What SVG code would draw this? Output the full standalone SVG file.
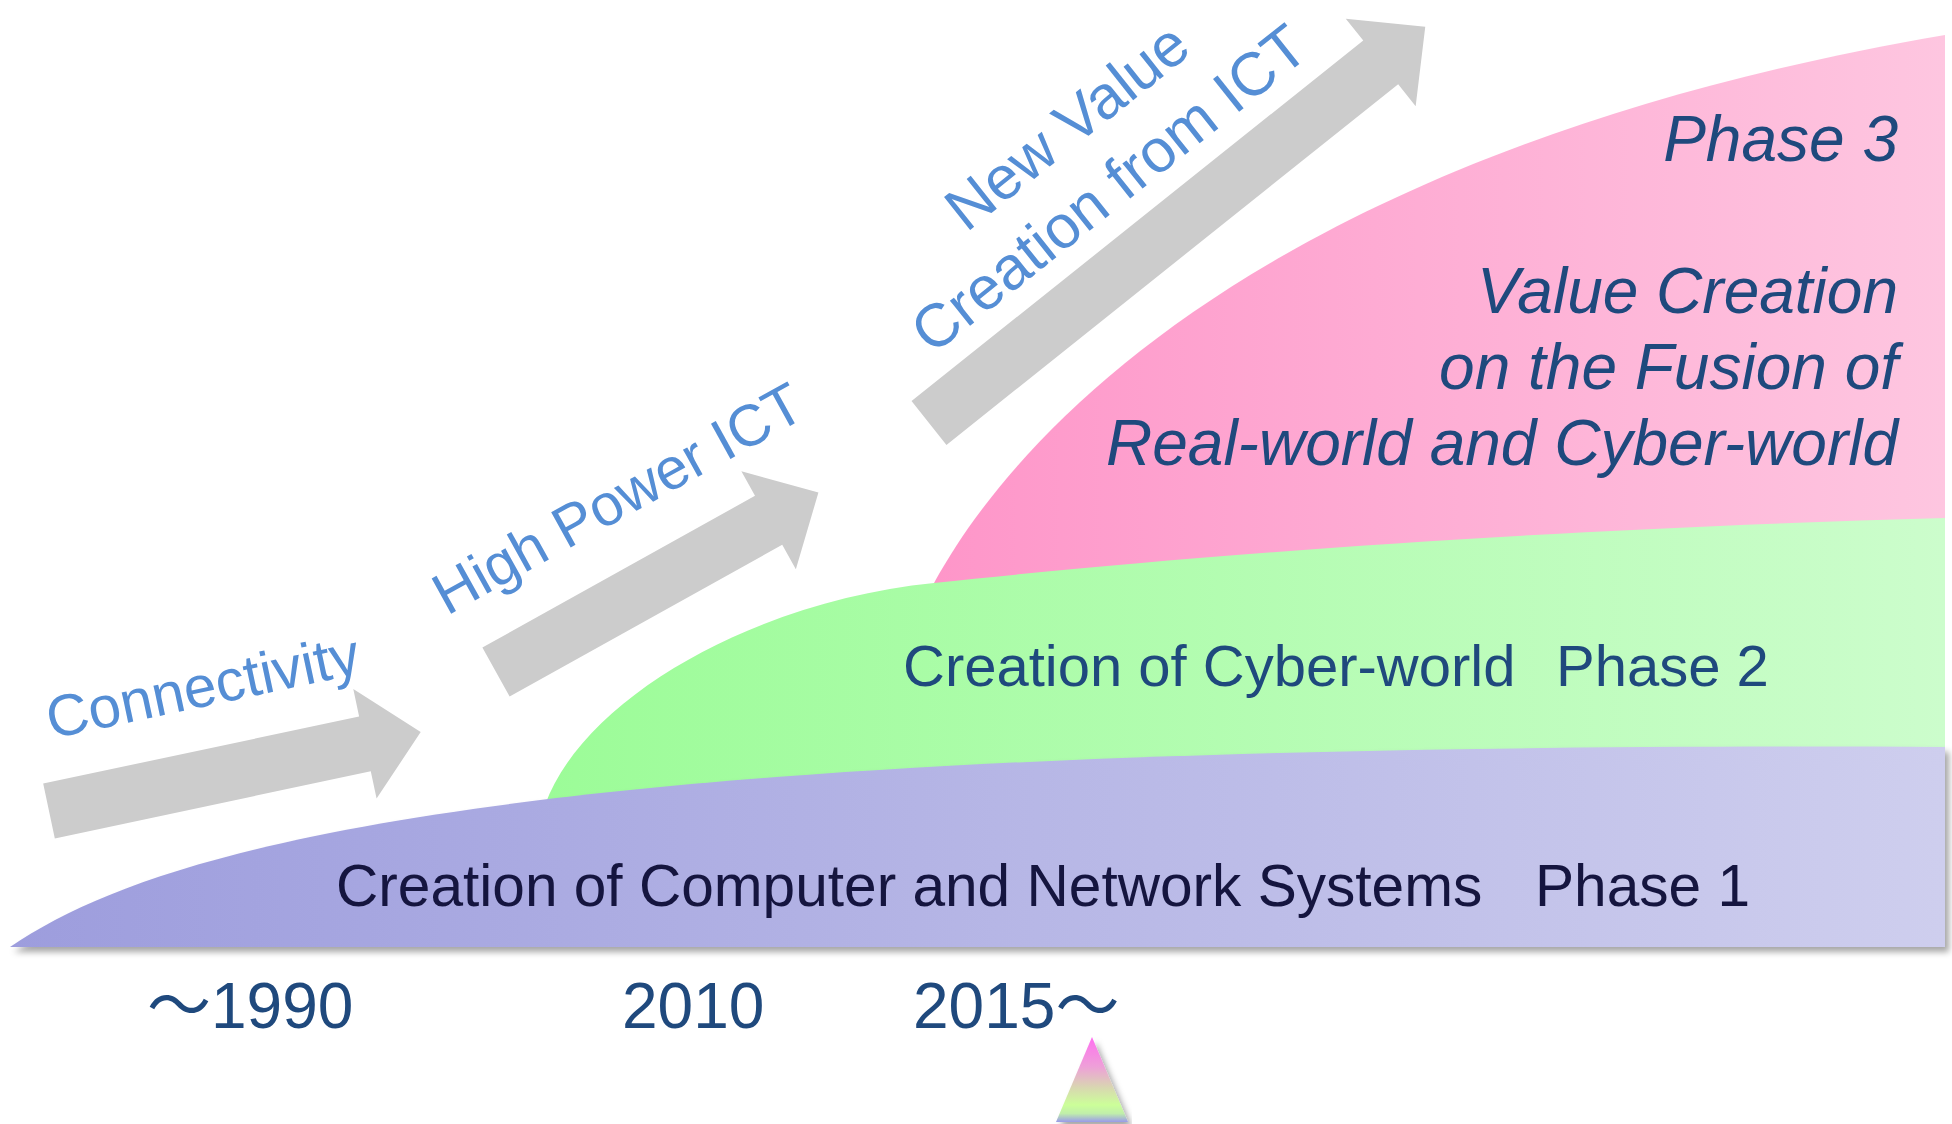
<svg xmlns="http://www.w3.org/2000/svg" width="1952" height="1124" viewBox="0 0 1952 1124">
<style>
  .lbl { font-family: "Liberation Sans", Arial, sans-serif; font-size: 58.5px; fill: #558ED5; }
  .lbl3 { font-family: "Liberation Sans", Arial, sans-serif; font-size: 61px; fill: #558ED5; text-anchor: middle; }
  .ph { font-family: "Liberation Sans", Arial, sans-serif; font-size: 58px; fill: #1F497D; }
  .ph1 { font-family: "Liberation Sans", Arial, sans-serif; font-size: 58.6px; fill: #15153F; }
  .ph3 { font-family: "Liberation Sans", Arial, sans-serif; font-size: 64px; font-style: italic; fill: #1F497D; text-anchor: end; }
  .yr { font-family: "Liberation Sans", "Noto Sans CJK JP", sans-serif; font-size: 64px; fill: #1F497D; }
  .arr { fill: #CCCCCC; }
</style>
<defs>
  <linearGradient id="gPurple" gradientUnits="userSpaceOnUse" x1="10" y1="0" x2="1945" y2="0">
    <stop offset="0" stop-color="#9D9DDD"/>
    <stop offset="1" stop-color="#CECEEE"/>
  </linearGradient>
  <linearGradient id="gGreen" gradientUnits="userSpaceOnUse" x1="548" y1="0" x2="1945" y2="0">
    <stop offset="0" stop-color="#9CFC98"/>
    <stop offset="1" stop-color="#CCFDCC"/>
  </linearGradient>
  <linearGradient id="gPink" gradientUnits="userSpaceOnUse" x1="934" y1="0" x2="1945" y2="0">
    <stop offset="0" stop-color="#FE96C9"/>
    <stop offset="1" stop-color="#FEC6E0"/>
  </linearGradient>
  <linearGradient id="gTri" x1="0" y1="0" x2="0" y2="1">
    <stop offset="0" stop-color="#FF6FF0"/>
    <stop offset="0.35" stop-color="#EEA0D8"/>
    <stop offset="0.6" stop-color="#D8D8B0"/>
    <stop offset="0.8" stop-color="#CCFF99"/>
    <stop offset="0.9" stop-color="#C0EEAA"/>
    <stop offset="1" stop-color="#9A9AEA"/>
  </linearGradient>
  <filter id="shadow" x="-5%" y="-10%" width="110%" height="130%">
    <feDropShadow dx="4" dy="5" stdDeviation="3" flood-color="#000" flood-opacity="0.35"/>
  </filter>
</defs>

<g id="phase3">
  <path d="M934,583 C1040,390 1330,140 1945,35 L1945,600 L934,600 Z" fill="url(#gPink)"/>
  <text class="ph3" x="1898" y="161">Phase 3</text>
  <text class="ph3" x="1898" y="313">Value Creation</text>
  <text class="ph3" x="1898" y="389">on the Fusion of</text>
  <text class="ph3" x="1898" y="465">Real-world and Cyber-world</text>
</g>

<g id="phase2">
  <path d="M545,805 C585,695 760,600 934,583 C1150,560 1500,530 1945,518 L1945,800 L545,810 Z" fill="url(#gGreen)"/>
  <text class="ph" x="903" y="686">Creation of Cyber-world</text>
  <text class="ph" x="1556" y="686">Phase 2</text>
</g>

<g id="phase1">
  <path d="M10,947 C180,830 600,740 1945,747 L1945,947 Z" fill="url(#gPurple)" filter="url(#shadow)"/>
  <text class="ph1" x="336" y="906">Creation of Computer and Network Systems</text>
  <text class="ph1" x="1535" y="906">Phase 1</text>
</g>

<g id="connectors">
  <g id="arrow-connectivity" transform="translate(49,811) rotate(-12)">
    <polygon class="arr" points="0,-28 323,-28 323,-56 380,0 323,56 323,28 0,28"/>
  </g>
  <g id="arrow-highpower" transform="translate(496,672) rotate(-29.1)">
    <polygon class="arr" points="0,-28 312,-28 312,-56 369,0 312,56 312,28 0,28"/>
  </g>
  <g id="arrow-newvalue" transform="translate(929,423) rotate(-38.6)">
    <polygon class="arr" points="0,-28 578,-28 578,-56 635,0 578,56 578,28 0,28"/>
  </g>
</g>

<g id="label-connectivity">
  <text class="lbl" transform="translate(51,739) rotate(-12)">Connectivity</text>
</g>
<g id="label-highpower">
  <text class="lbl" transform="translate(447,616) rotate(-29)">High Power ICT</text>
</g>
<g id="label-newvalue" transform="translate(1122,205) rotate(-38.5)">
  <text class="lbl3" x="6" y="-75">New Value</text>
  <text class="lbl3" x="0" y="0">Creation from ICT</text>
</g>

<g id="years">
  <text class="yr" x="147" y="1028">～1990</text>
  <text class="yr" x="622" y="1028">2010</text>
  <text class="yr" x="913" y="1028">2015～</text>
</g>

<g id="marker-triangle">
  <polygon points="1092,1037 1056,1122 1128,1122" fill="url(#gTri)" filter="url(#shadow)"/>
</g>
</svg>
